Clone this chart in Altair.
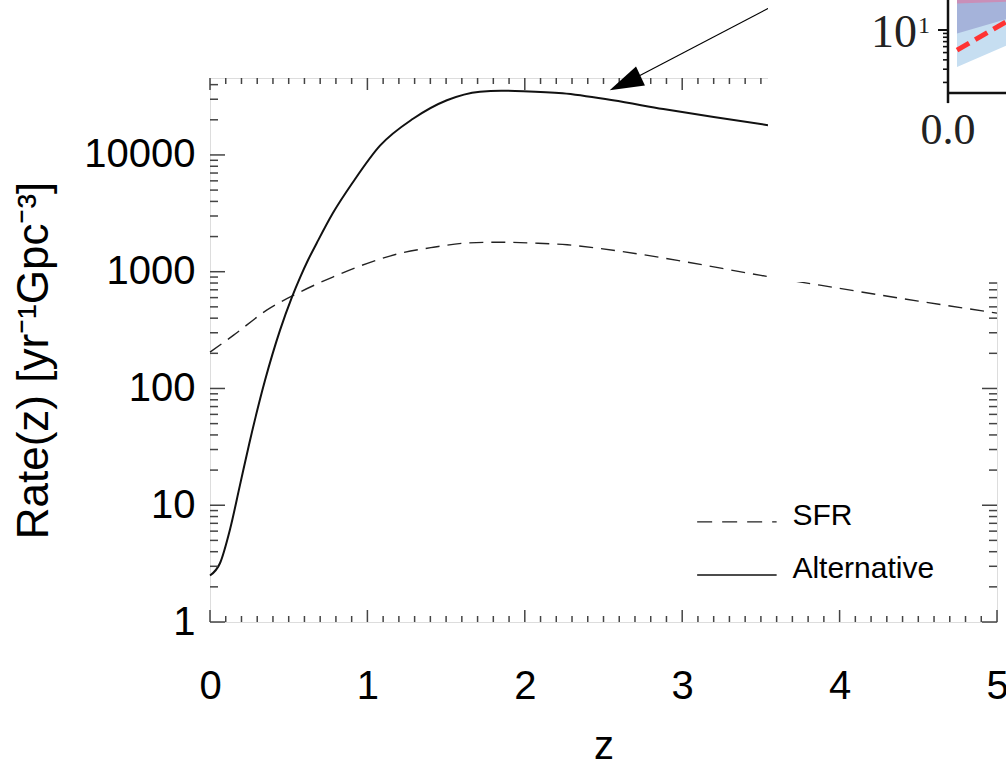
import altair as alt
import pandas as pd

# ---------------- main curves: merger rate vs. redshift ----------------
sfr_z = [0.0, 0.15, 0.36, 0.57, 0.78, 1.0, 1.21, 1.42, 1.63, 1.84, 2.05, 2.27,
         2.46, 2.75, 3.0, 3.5, 4.0, 4.5, 5.0]
sfr_rate = [205, 286, 468, 668, 900, 1180, 1440, 1620, 1760, 1790, 1760, 1700,
            1590, 1400, 1230, 930, 720, 560, 442]

alt_z = [0.0, 0.064, 0.127, 0.19, 0.25, 0.35, 0.445, 0.52, 0.572, 0.623, 0.68,
         0.78, 0.91, 1.08, 1.29, 1.505, 1.715, 1.85, 1.99, 2.24, 2.56,
         2.88, 3.2, 3.545]
alt_rate = [2.5, 3.2, 6.2, 14.8, 34, 118, 316, 603, 891, 1259, 1778,
            3162, 5890, 12000, 20400, 29400, 34800, 35500, 35200, 33800,
            29400, 24700, 21100, 18000]

# axis ticks
x_major = [0, 1, 2, 3, 4, 5]
x_minor = [round(i * 0.1, 1) for i in range(51) if i % 10]
y_major = [1, 10, 100, 1000, 10000]
y_minor = [k * 10 ** e for e in range(5) for k in range(2, 10) if k * 10 ** e < 45600]

# legend entries (placed in data units, lower right)
legend_x = [3.095, 3.60]
legend_text_x = 3.70
legend_y = {"SFR": 7.2, "Alternative": 2.53}

# annotation arrow (data units)
arrow_tail = (3.56, 184000)
arrow_head = (2.637, 41200)

# region of the overlaid panel fragment (data units)
panel_x = [3.545, 5.3]
panel_y = [815, 1.0e7]

W, H = 787, 544
FONT = "Liberation Sans"
INK = "#444444"

xs = alt.Scale(domain=[0, 5], nice=False, zero=False)
ys = alt.Scale(type="log", domain=[1, 45600], nice=False)

sfr_df = pd.DataFrame({"z": sfr_z, "rate": sfr_rate})
alt_df = pd.DataFrame({"z": alt_z, "rate": alt_rate})

x_axis = alt.Axis(values=x_major, format="d", ticks=False, domain=False, grid=False,
                  labelFont=FONT, labelFontSize=40, labelColor="black", labelPadding=44,
                  labelBaseline="top", labelFlush=False,
                  titleFont=FONT, titleFontSize=40, titleFontWeight="normal",
                  titleColor="black", titleY=136, titleBaseline="alphabetic")
y_axis = alt.Axis(values=y_major, format="d", ticks=False, domain=False, grid=False,
                  labelFont=FONT, labelFontSize=40, labelColor="black", labelPadding=15,
                  labelBaseline="middle", labelFlush=False,
                  titleFont=FONT, titleFontSize=44, titleFontWeight="normal",
                  titleColor="black", titleX=-176, titleY=H / 2 + 10, titleBaseline="middle")

sfr_line = alt.Chart(sfr_df).mark_line(
    color="#222222", strokeWidth=1.4, strokeDash=[14, 8], interpolate="monotone"
).encode(
    x=alt.X("z:Q", scale=xs, axis=x_axis, title="z"),
    y=alt.Y("rate:Q", scale=ys, axis=y_axis, title="Rate(z)  [yr⁻¹Gpc⁻³]"),
)

alt_line = alt.Chart(alt_df).mark_line(
    color="#111111", strokeWidth=2.0, interpolate="monotone"
).encode(x=alt.X("z:Q", scale=xs), y=alt.Y("rate:Q", scale=ys))


def y_ticks(values, x0, x1):
    return alt.Chart(pd.DataFrame({"v": values})).mark_rule(
        color=INK, strokeWidth=1.5
    ).encode(y=alt.Y("v:Q", scale=ys), x=alt.value(x0), x2=alt.value(x1))


def x_ticks(values, y0, y1):
    return alt.Chart(pd.DataFrame({"v": values})).mark_rule(
        color=INK, strokeWidth=1.5
    ).encode(x=alt.X("v:Q", scale=xs), y=alt.value(y0), y2=alt.value(y1))


ticks = [
    y_ticks(y_major, 0, 15), y_ticks(y_minor, 0, 8),
    y_ticks(y_major, W, W - 15), y_ticks(y_minor, W, W - 8),
    x_ticks(x_major, H, H - 12), x_ticks(x_minor, H, H - 6),
    x_ticks(x_major, 0, 12), x_ticks(x_minor, 0, 6),
]

# legend
leg_sfr = alt.Chart(pd.DataFrame({"x": [legend_x[0]], "x2": [legend_x[1]], "y": [legend_y["SFR"]]})).mark_rule(
    color="#222222", strokeWidth=1.4, strokeDash=[15, 10]
).encode(x=alt.X("x:Q", scale=xs), x2="x2:Q", y=alt.Y("y:Q", scale=ys))
leg_alt = alt.Chart(pd.DataFrame({"x": [legend_x[0]], "x2": [legend_x[1]], "y": [legend_y["Alternative"]]})).mark_rule(
    color="#111111", strokeWidth=1.4
).encode(x=alt.X("x:Q", scale=xs), x2="x2:Q", y=alt.Y("y:Q", scale=ys))
leg_text = alt.Chart(pd.DataFrame({
    "x": [legend_text_x] * 2,
    "y": [legend_y["SFR"], legend_y["Alternative"]],
    "t": ["SFR", "Alternative"],
})).mark_text(font=FONT, fontSize=30, align="left", baseline="alphabetic", dy=3, color="black").encode(
    x=alt.X("x:Q", scale=xs), y=alt.Y("y:Q", scale=ys), text="t:N"
)

# arrow pointing at the peak region of the solid curve
arrow_line = alt.Chart(pd.DataFrame({
    "x": [arrow_tail[0]], "y": [arrow_tail[1]], "x2": [arrow_head[0]], "y2": [arrow_head[1]]
})).mark_rule(color="black", strokeWidth=1.1).encode(
    x=alt.X("x:Q", scale=xs), y=alt.Y("y:Q", scale=ys), x2="x2:Q", y2="y2:Q"
)
arrow_tip = alt.Chart(pd.DataFrame({"x": [arrow_head[0]], "y": [arrow_head[1]]})).mark_point(
    shape="M0,-1L0.62,1L-0.62,1Z", filled=True, size=1156, angle=245,
    color="black", opacity=1, strokeWidth=0
).encode(x=alt.X("x:Q", scale=xs), y=alt.Y("y:Q", scale=ys))

panel_box = alt.Chart(pd.DataFrame({
    "x": [panel_x[0]], "x2": [panel_x[1]], "y": [panel_y[0]], "y2": [panel_y[1]]
})).mark_rect(color="white").encode(
    x=alt.X("x:Q", scale=xs), x2="x2:Q", y=alt.Y("y:Q", scale=ys), y2="y2:Q"
)

main = alt.layer(sfr_line, alt_line, *ticks, leg_sfr, leg_alt, leg_text,
                 arrow_line, arrow_tip, panel_box)

# ---------------- overlaid panel fragment (own coordinate system) ----------------
ix = alt.Scale(domain=[0, 1], range=[738, 918], nice=False, zero=False)
iy = alt.Scale(type="log", domain=[1, 100], range=[27, -123], nice=False)

band_x = [0.05, 0.35]
band_light_lo = [3.2, 6.6]
band_mid_lo = [9.0, 14.5]
band_pink_lo = [22.5, 24.0]
band_top = [100, 100]
red_x = [0.05, 0.35]
red_y = [5.4, 14.0]
inset_axis_y = 1.445
inset_minor = [2, 3, 4, 5, 6, 7, 8, 9]


def band(lo, color):
    return alt.Chart(pd.DataFrame({"x": band_x, "lo": lo, "hi": band_top})).mark_area(
        color=color, opacity=1
    ).encode(x=alt.X("x:Q", scale=ix, axis=None), y=alt.Y("lo:Q", scale=iy, axis=None), y2="hi:Q")


red = alt.Chart(pd.DataFrame({"x": red_x, "y": red_y})).mark_line(
    color="#ff3333", strokeWidth=5, strokeDash=[14, 7]
).encode(x=alt.X("x:Q", scale=ix, axis=None), y=alt.Y("y:Q", scale=iy, axis=None))

i_vert = alt.Chart(pd.DataFrame({"x": [0], "y": [1.06], "y2": [100]})).mark_rule(
    color="#111111", strokeWidth=2.5
).encode(x=alt.X("x:Q", scale=ix, axis=None), y=alt.Y("y:Q", scale=iy, axis=None), y2="y2:Q")
i_horiz = alt.Chart(pd.DataFrame({"x": [0], "x2": [1], "y": [inset_axis_y]})).mark_rule(
    color="#111111", strokeWidth=2.5
).encode(x=alt.X("x:Q", scale=ix, axis=None), x2="x2:Q", y=alt.Y("y:Q", scale=iy, axis=None))
i_major = alt.Chart(pd.DataFrame({"v": [10]})).mark_rule(color="#111111", strokeWidth=2).encode(
    y=alt.Y("v:Q", scale=iy, axis=None), x=alt.value(728), x2=alt.value(738))
i_minor = alt.Chart(pd.DataFrame({"v": inset_minor})).mark_rule(color="#111111", strokeWidth=1.6).encode(
    y=alt.Y("v:Q", scale=iy, axis=None), x=alt.value(733), x2=alt.value(738))

SERIF = "Liberation Serif"
i_lab10 = alt.Chart(pd.DataFrame({"x": [0], "y": [10], "t": ["10"]})).mark_text(
    font=SERIF, fontSize=46, align="right", baseline="middle", dx=-31, dy=3, color="#222222"
).encode(x=alt.X("x:Q", scale=ix, axis=None), y=alt.Y("y:Q", scale=iy, axis=None), text="t:N")
i_sup = alt.Chart(pd.DataFrame({"x": [0], "y": [10], "t": ["1"]})).mark_text(
    font=SERIF, fontSize=24, align="left", baseline="alphabetic", dx=-30, dy=3, color="#222222"
).encode(x=alt.X("x:Q", scale=ix, axis=None), y=alt.Y("y:Q", scale=iy, axis=None), text="t:N")
i_lab0 = alt.Chart(pd.DataFrame({"x": [0], "y": [inset_axis_y], "t": ["0.0"]})).mark_text(
    font=SERIF, fontSize=44, align="center", baseline="top", dy=16, color="#222222"
).encode(x=alt.X("x:Q", scale=ix, axis=None), y=alt.Y("y:Q", scale=iy, axis=None), text="t:N")

inset = alt.layer(band(band_light_lo, "#c6def1"), band(band_mid_lo, "#a5b3da"),
                  band(band_pink_lo, "#c98fb8"), red, i_vert, i_horiz, i_major, i_minor,
                  i_lab10, i_sup, i_lab0)

chart = alt.layer(main, inset).resolve_scale(
    x="independent", y="independent"
).properties(
    width=W, height=H,
    autosize=alt.AutoSizeParams(type="none"),
    padding={"left": 210, "top": 78, "right": 9, "bottom": 143},
).configure_view(stroke=INK, strokeWidth=1.8).configure(background="white")

chart.save("out.html", embed_options={"renderer": "svg", "actions": False})
